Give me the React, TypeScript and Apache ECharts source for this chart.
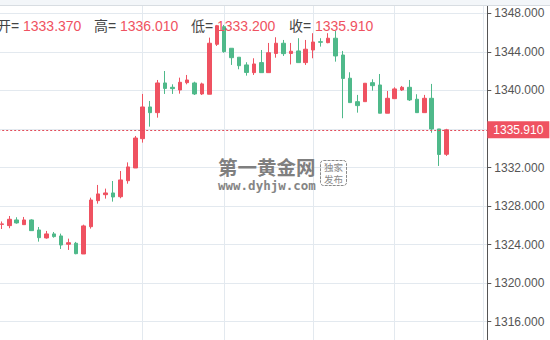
import React, { useEffect, useRef } from 'react';
import * as echarts from 'echarts';

// ---- data ----
const slotCount = 66; // 61 candles + empty space on the right
const categories = Array.from({ length: slotCount }, (_, i) => 'T' + i);

// [open, close, low, high]
const candles: number[][] = [
  [1326.10, 1326.15, 1325.62, 1326.40],
  [1325.97, 1326.63, 1325.70, 1326.97],
  [1326.56, 1326.25, 1326.17, 1326.84],
  [1326.07, 1326.56, 1326.07, 1326.87],
  [1326.56, 1325.45, 1325.45, 1326.63],
  [1325.52, 1324.72, 1324.31, 1325.83],
  [1324.69, 1325.11, 1324.62, 1325.42],
  [1325.11, 1324.83, 1324.72, 1325.31],
  [1324.90, 1323.96, 1323.55, 1325.14],
  [1324.04, 1324.20, 1323.45, 1324.62],
  [1324.14, 1323.06, 1323.00, 1324.28],
  [1323.03, 1325.94, 1323.03, 1326.07],
  [1325.86, 1328.63, 1325.66, 1328.87],
  [1328.56, 1329.26, 1328.25, 1330.19],
  [1329.18, 1329.36, 1328.77, 1329.81],
  [1329.36, 1328.94, 1328.46, 1330.60],
  [1328.97, 1330.71, 1328.81, 1331.64],
  [1330.63, 1332.06, 1330.32, 1332.53],
  [1331.95, 1335.06, 1331.95, 1335.27],
  [1334.99, 1338.28, 1334.58, 1339.63],
  [1338.28, 1337.69, 1336.24, 1338.90],
  [1337.69, 1340.77, 1337.17, 1341.08],
  [1340.77, 1340.20, 1339.63, 1342.01],
  [1340.32, 1340.18, 1339.63, 1340.63],
  [1340.04, 1340.84, 1339.66, 1341.32],
  [1340.80, 1341.08, 1340.63, 1341.60],
  [1340.77, 1339.63, 1339.52, 1340.90],
  [1339.63, 1340.67, 1339.52, 1340.80],
  [1339.60, 1344.89, 1339.60, 1345.47],
  [1344.78, 1346.71, 1344.61, 1346.79],
  [1346.61, 1344.02, 1343.91, 1346.79],
  [1344.37, 1343.39, 1342.64, 1344.37],
  [1343.44, 1342.56, 1342.19, 1343.44],
  [1342.64, 1341.86, 1341.53, 1342.92],
  [1341.84, 1342.74, 1341.60, 1343.33],
  [1342.88, 1341.84, 1341.84, 1344.19],
  [1341.84, 1343.91, 1341.84, 1344.92],
  [1343.83, 1344.89, 1343.39, 1345.51],
  [1344.89, 1343.81, 1343.57, 1345.23],
  [1343.83, 1344.06, 1342.69, 1344.92],
  [1344.09, 1342.88, 1342.88, 1345.41],
  [1342.88, 1344.27, 1342.64, 1345.23],
  [1344.19, 1345.02, 1343.33, 1345.93],
  [1345.05, 1344.99, 1344.54, 1345.41],
  [1344.95, 1345.41, 1344.89, 1345.93],
  [1345.41, 1343.57, 1342.98, 1346.16],
  [1343.67, 1341.24, 1337.11, 1344.09],
  [1341.26, 1338.73, 1338.73, 1341.88],
  [1338.83, 1338.42, 1337.69, 1339.53],
  [1338.83, 1340.74, 1338.83, 1340.74],
  [1340.80, 1340.49, 1339.97, 1341.15],
  [1340.56, 1337.63, 1337.63, 1341.70],
  [1337.63, 1339.18, 1337.63, 1339.94],
  [1339.14, 1340.15, 1339.14, 1340.32],
  [1340.04, 1340.32, 1339.94, 1340.46],
  [1340.32, 1339.01, 1338.90, 1341.08],
  [1339.08, 1337.69, 1337.69, 1339.60],
  [1337.69, 1339.18, 1337.69, 1339.53],
  [1339.18, 1336.00, 1335.61, 1340.67],
  [1336.00, 1333.35, 1332.16, 1336.00],
  [1333.37, 1335.91, 1333.20, 1336.01],
];

const gridLineIndices = [19, 30, 42, 53, 65];
const yMin = 1312;
const yMax = 1352;
const yStep = 4;

const last = candles[candles.length - 1];
const lastPrice = last[1];
const headerLabels = ['开=', '高=', '低=', '收='];
const headerValues = [last[0], last[3], last[2], last[1]];

// ---- styles ----
const UP = '#ef5261';
const DOWN = '#4fb98a';
const GRID = '#e3e9ef';
const AXIS = '#555555';
const FONT = '"Liberation Sans", Arial, "Noto Sans CJK SC", sans-serif';
const headerLabelX = [-3, 94, 191, 289];
const headerValueX = [23, 120, 217, 315];

export default function App() {
  const ref = useRef<HTMLDivElement>(null);
  useEffect(() => {
    document.body.style.margin = '0';
    const chart = echarts.init(ref.current!, null, { renderer: 'svg' });

    const headerEls: any[] = [];
    headerLabels.forEach((lab, i) => {
      headerEls.push({
        type: 'text', x: headerLabelX[i], y: 26, z: 100,
        style: { text: lab, fill: '#444', font: '14px ' + FONT, verticalAlign: 'middle', align: 'left' },
      });
      headerEls.push({
        type: 'text', x: headerValueX[i], y: 26, z: 100,
        style: { text: headerValues[i].toFixed(3), fill: UP, font: '14px ' + FONT, verticalAlign: 'middle', align: 'left' },
      });
    });

    chart.setOption({
      animation: false,
      backgroundColor: '#ffffff',
      grid: {
        left: -1.8, right: 62.7, top: -25.3, bottom: -20.3,
        containLabel: false,
        outerBoundsMode: 'none',
      },
      xAxis: {
        type: 'category',
        data: categories,
        boundaryGap: true,
        axisLine: { show: false },
        axisTick: { show: false },
        axisLabel: { show: false },
        splitLine: {
          show: true,
          alignWithLabel: true,
          interval: (idx: number) => gridLineIndices.includes(idx),
          lineStyle: { color: GRID, width: 1 },
        },
      },
      yAxis: {
        type: 'value',
        position: 'right',
        min: yMin,
        max: yMax,
        interval: yStep,
        scale: true,
        axisLine: { show: true, lineStyle: { color: AXIS, width: 1 } },
        axisTick: { show: true, length: 4, lineStyle: { color: AXIS } },
        axisLabel: {
          color: AXIS,
          fontSize: 12,
          fontFamily: FONT,
          margin: 7,
          showMinLabel: false,
          showMaxLabel: false,
          formatter: (v: number) => (v <= yMin || v >= yMax ? '' : v.toFixed(3)),
        },
        splitLine: { show: true, lineStyle: { color: GRID, width: 1 } },
      },
      series: [
        {
          type: 'candlestick',
          data: candles,
          barWidth: 4,
          itemStyle: {
            color: UP,
            color0: DOWN,
            borderColor: UP,
            borderColor0: DOWN,
            borderWidth: 1,
          },
          markLine: {
            silent: true,
            symbol: ['none', 'none'],
            data: [{ yAxis: lastPrice }],
            lineStyle: { color: '#e04b5a', type: [2, 2], width: 1 },
            label: {
              show: true,
              position: 'end',
              distance: 0,
              formatter: () => lastPrice.toFixed(3),
              color: '#ffffff',
              backgroundColor: UP,
              padding: [3, 6, 2, 6],
              fontSize: 12,
              fontFamily: FONT,
              lineHeight: 12,
            },
            emphasis: { disabled: true },
          },
        },
      ],
      graphic: [
        { type: 'rect', z: 100, shape: { x: 0, y: 0, width: 550, height: 5 }, style: { fill: '#f3f6f9' } },
        { type: 'line', z: 100, shape: { x1: 0, y1: 5.5, x2: 550, y2: 5.5 }, style: { stroke: '#d8dde2', lineWidth: 1 } },
        ...headerEls,
        {
          type: 'text', x: 218, y: 166, z: 50,
          style: {
            text: '第一黄金网', fill: '#7f7f7f',
            font: 'bold 19.5px "Noto Sans CJK SC", sans-serif',
            verticalAlign: 'middle', align: 'left',
          },
        },
        {
          type: 'text', x: 218, y: 185, z: 50,
          style: {
            text: 'www.dyhjw.com', fill: '#858585',
            font: 'bold 12.5px "DejaVu Sans Mono", monospace',
            verticalAlign: 'middle', align: 'left',
          },
        },
        {
          type: 'rect', z: 50,
          shape: { x: 320.5, y: 160.5, width: 26, height: 25, r: 3 },
          style: { fill: 'none', stroke: '#8a8a8a', lineWidth: 1, lineDash: [3, 1] },
        },
        {
          type: 'text', x: 333.5, y: 167, z: 50,
          style: { text: '独家', fill: '#8a8a8a', font: '9.5px "Noto Sans CJK SC", sans-serif', verticalAlign: 'middle', align: 'center' },
        },
        {
          type: 'text', x: 333.5, y: 179, z: 50,
          style: { text: '发布', fill: '#8a8a8a', font: '9.5px "Noto Sans CJK SC", sans-serif', verticalAlign: 'middle', align: 'center' },
        },
      ],
    });
    return () => chart.dispose();
  }, []);
  return (
    <div
      ref={ref}
      style={{ position: 'fixed', left: 0, top: 0, width: 550, height: 340, background: '#fff' }}
    />
  );
}
